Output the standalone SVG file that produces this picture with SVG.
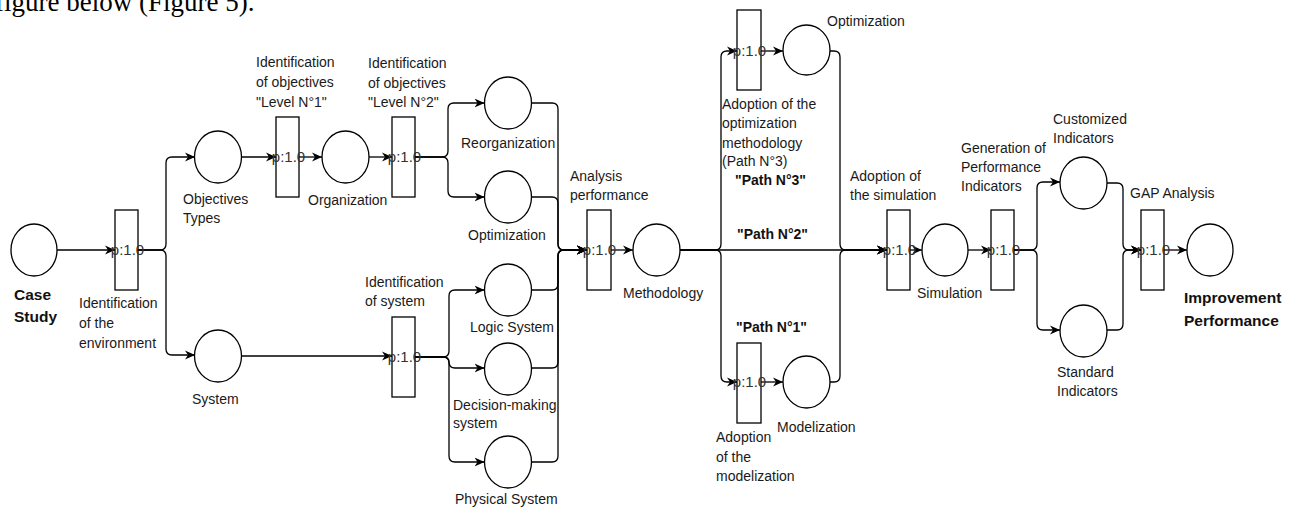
<svg xmlns="http://www.w3.org/2000/svg" width="1292" height="508" viewBox="0 0 1292 508">
<defs>
<marker id="arr" viewBox="0 0 10 10" refX="10" refY="5" markerWidth="10" markerHeight="10" markerUnits="userSpaceOnUse" orient="auto">
<path d="M0,0.5 L10,5 L0,9.5 L3,5 z" fill="#000"/>
</marker>
<style>
.pl{fill:#fff;stroke:#000;stroke-width:1.3}
.tr{fill:#fff;stroke:#000;stroke-width:1.3}
.c{fill:none;stroke:#000;stroke-width:1.3;marker-end:url(#arr)}
.t{font-family:"Liberation Sans",Arial,sans-serif;font-size:14px;fill:#1a1a1a}
.b{font-family:"Liberation Sans",Arial,sans-serif;font-size:15.5px;font-weight:bold;fill:#111}
.bp{font-family:"Liberation Sans",Arial,sans-serif;font-size:14px;font-weight:bold;fill:#111}
.p{font-family:"Liberation Sans",Arial,sans-serif;font-size:15px;fill:#333;text-anchor:middle}
.cap{font-family:"Liberation Serif","Times New Roman",serif;font-size:27px;fill:#000}
</style>
</defs>
<rect width="1292" height="508" fill="#fff"/>
<text class="cap" x="-5" y="11">figure below (Figure 5).</text>

<g id="connectors">
<path class="c" d="M57,250 H115"/>
<path class="c" d="M138,250 H160 Q166,250 166,244 V163 Q166,157 172,157 H195"/>
<path class="c" d="M138,250 H160 Q166,250 166,256 V349 Q166,355 172,355 H195"/>
<path class="c" d="M241.5,157 H276"/>
<path class="c" d="M299,157 H322"/>
<path class="c" d="M369,157 H392"/>
<path class="c" d="M415,157 H442 Q448,157 448,151 V109 Q448,103 454,103 H484.5"/>
<path class="c" d="M415,157 H442 Q448,157 448,163 V191 Q448,197 454,197 H484.5"/>
<path class="c" d="M531.5,103 H552 Q558,103 558,109 V244 Q558,250 564,250 H587"/>
<path class="c" d="M531.5,197 H552 Q558,197 558,203 V244 Q558,250 564,250 H587"/>
<path class="c" d="M241.5,356 H392"/>
<path class="c" d="M415,357 H443 Q449,357 449,351 V296 Q449,290 455,290 H484.5"/>
<path class="c" d="M415,357 H443 Q449,357 449,362 Q449,368 455,368 H484.5"/>
<path class="c" d="M415,357 H443 Q449,357 449,363 V456 Q449,462 455,462 H484.5"/>
<path class="c" d="M531.5,290 H552 Q558,290 558,284 V256 Q558,250 564,250 H587"/>
<path class="c" d="M531.5,368 H552 Q558,368 558,362 V256 Q558,250 564,250 H587"/>
<path class="c" d="M531.5,462 H552 Q558,462 558,456 V256 Q558,250 564,250 H587"/>
<path class="c" d="M611,250 H633"/>
<path class="c" d="M680,250 H715 Q721,250 721,244 V57 Q721,51 727,51 H737"/>
<path class="c" d="M680,250 H715 Q721,250 721,256 V376 Q721,382 727,382 H737"/>
<path class="c" d="M680,250 H887"/>
<path class="c" d="M761,51 H783"/>
<path class="c" d="M761,382 H783"/>
<path class="c" d="M830,51 H834 Q840,51 840,57 V244 Q840,250 846,250 H887"/>
<path class="c" d="M830,382 H834 Q840,382 840,376 V256 Q840,250 846,250 H887"/>
<path class="c" d="M910,250 H922"/>
<path class="c" d="M968,250 H991"/>
<path class="c" d="M1014,250 H1031 Q1037,250 1037,244 V188 Q1037,182 1043,182 H1060"/>
<path class="c" d="M1014,250 H1031 Q1037,250 1037,256 V324 Q1037,330 1043,330 H1060"/>
<path class="c" d="M1107,183 H1117 Q1123,183 1123,189 V244 Q1123,250 1129,250 H1141"/>
<path class="c" d="M1107,330 H1117 Q1123,330 1123,324 V256 Q1123,250 1129,250 H1141"/>
<path class="c" d="M1164,250 H1187"/>
</g>

<g id="case-study">
<ellipse class="pl" cx="34" cy="250" rx="23" ry="26"/>
<text class="b" x="14" y="300">Case</text>
<text class="b" x="14" y="322">Study</text>
</g>

<g id="t-environment">
<rect class="tr" x="115" y="210" width="23" height="80"/>
<text class="p" x="127.5" y="255">p:1.0</text>
<text class="t" x="79" y="308">Identification</text>
<text class="t" x="79" y="328">of the</text>
<text class="t" x="79" y="348">environment</text>
</g>

<g id="objectives-types">
<ellipse class="pl" cx="218" cy="157" rx="23.5" ry="26"/>
<text class="t" x="183" y="204">Objectives</text>
<text class="t" x="183" y="223">Types</text>
</g>

<g id="system">
<ellipse class="pl" cx="218" cy="356" rx="23.5" ry="26"/>
<text class="t" x="192" y="404">System</text>
</g>

<g id="t-objectives-1">
<rect class="tr" x="276" y="117" width="23" height="80"/>
<text class="p" x="288.5" y="162">p:1.0</text>
<text class="t" x="256" y="67">Identification</text>
<text class="t" x="256" y="87">of objectives</text>
<text class="t" x="256" y="107">"Level N°1"</text>
</g>

<g id="organization">
<ellipse class="pl" cx="345.5" cy="157" rx="23.5" ry="26"/>
<text class="t" x="308" y="205">Organization</text>
</g>

<g id="t-objectives-2">
<rect class="tr" x="392" y="117" width="23" height="80"/>
<text class="p" x="404.5" y="162">p:1.0</text>
<text class="t" x="368" y="68">Identification</text>
<text class="t" x="368" y="88">of objectives</text>
<text class="t" x="368" y="107">"Level N°2"</text>
</g>

<g id="reorganization">
<ellipse class="pl" cx="508" cy="103" rx="23.5" ry="26"/>
<text class="t" x="461" y="148">Reorganization</text>
</g>

<g id="optimization-1">
<ellipse class="pl" cx="508" cy="197" rx="23.5" ry="26"/>
<text class="t" x="468" y="240">Optimization</text>
</g>

<g id="t-system">
<rect class="tr" x="392" y="317" width="23" height="80"/>
<text class="p" x="404.5" y="362">p:1.0</text>
<text class="t" x="365" y="287">Identification</text>
<text class="t" x="365" y="306">of system</text>
</g>

<g id="logic-system">
<ellipse class="pl" cx="508" cy="290" rx="23.5" ry="26"/>
<text class="t" x="470" y="332">Logic System</text>
</g>

<g id="decision-system">
<ellipse class="pl" cx="508" cy="369" rx="23.5" ry="26"/>
<text class="t" x="453" y="410">Decision-making</text>
<text class="t" x="453" y="428">system</text>
</g>

<g id="physical-system">
<ellipse class="pl" cx="508" cy="462" rx="23.5" ry="26"/>
<text class="t" x="455" y="504">Physical System</text>
</g>

<g id="t-analysis">
<rect class="tr" x="587" y="210" width="24" height="80"/>
<text class="p" x="599.5" y="255">p:1.0</text>
<text class="t" x="570" y="181">Analysis</text>
<text class="t" x="570" y="200">performance</text>
</g>

<g id="methodology">
<ellipse class="pl" cx="656.5" cy="250" rx="23.5" ry="26"/>
<text class="t" x="623" y="298">Methodology</text>
</g>

<g id="t-optimization">
<rect class="tr" x="737" y="10" width="24" height="80"/>
<text class="p" x="749.5" y="56">p:1.0</text>
<text class="t" x="722" y="109">Adoption of the</text>
<text class="t" x="722" y="128">optimization</text>
<text class="t" x="722" y="148">methodology</text>
<text class="t" x="722" y="166">(Path N°3)</text>
<text class="bp" x="735" y="185">"Path N°3"</text>
</g>

<g id="optimization-2">
<ellipse class="pl" cx="806.5" cy="50" rx="23.5" ry="25"/>
<text class="t" x="827" y="26">Optimization</text>
</g>

<g id="path-2">
<text class="bp" x="737" y="239">"Path N°2"</text>
</g>

<g id="t-modelization">
<rect class="tr" x="737" y="343" width="24" height="80"/>
<text class="p" x="749.5" y="387">p:1.0</text>
<text class="bp" x="736" y="332">"Path N°1"</text>
<text class="t" x="716" y="442">Adoption</text>
<text class="t" x="716" y="462">of the</text>
<text class="t" x="716" y="481">modelization</text>
</g>

<g id="modelization">
<ellipse class="pl" cx="806.5" cy="382" rx="23.5" ry="26"/>
<text class="t" x="777" y="432">Modelization</text>
</g>

<g id="t-simulation">
<rect class="tr" x="887" y="210" width="23" height="80"/>
<text class="p" x="899.5" y="255">p:1.0</text>
<text class="t" x="850" y="181">Adoption of</text>
<text class="t" x="850" y="200">the simulation</text>
</g>

<g id="simulation">
<ellipse class="pl" cx="945" cy="250" rx="23" ry="26"/>
<text class="t" x="917" y="298">Simulation</text>
</g>

<g id="t-indicators">
<rect class="tr" x="991" y="210" width="23" height="80"/>
<text class="p" x="1003.5" y="255">p:1.0</text>
<text class="t" x="961" y="153">Generation of</text>
<text class="t" x="961" y="172">Performance</text>
<text class="t" x="961" y="191">Indicators</text>
</g>

<g id="customized-indicators">
<ellipse class="pl" cx="1083.5" cy="183" rx="23.5" ry="26"/>
<text class="t" x="1053" y="124">Customized</text>
<text class="t" x="1053" y="143">Indicators</text>
</g>

<g id="standard-indicators">
<ellipse class="pl" cx="1083.5" cy="331" rx="23.5" ry="26"/>
<text class="t" x="1057" y="377">Standard</text>
<text class="t" x="1057" y="396">Indicators</text>
</g>

<g id="t-gap">
<rect class="tr" x="1141" y="210" width="23" height="80"/>
<text class="p" x="1153.5" y="255">p:1.0</text>
<text class="t" x="1130" y="198">GAP Analysis</text>
</g>

<g id="improvement-performance">
<ellipse class="pl" cx="1210" cy="250" rx="23" ry="26"/>
<text class="b" x="1184" y="303">Improvement</text>
<text class="b" x="1184" y="326">Performance</text>
</g>
</svg>
